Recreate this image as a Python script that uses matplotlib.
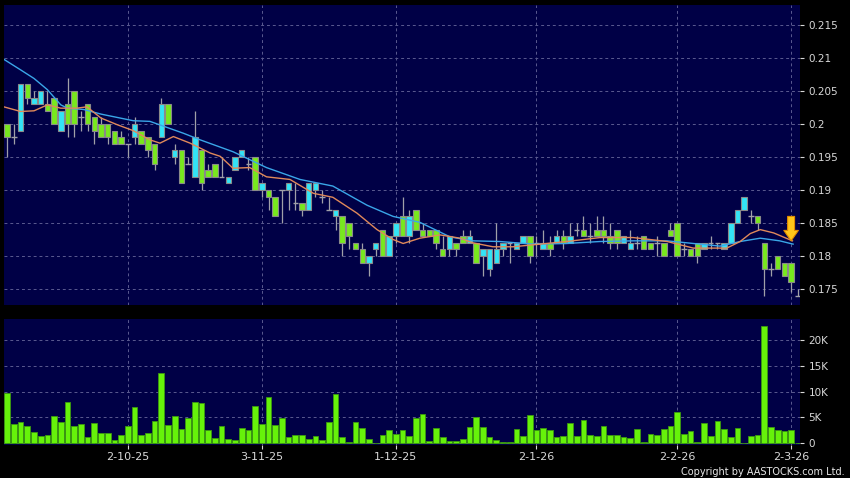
import numpy as np
import matplotlib
matplotlib.use("Agg")
import matplotlib.pyplot as plt
from matplotlib.ticker import FixedLocator, FuncFormatter

# daily OHLC, one entry per trading day (5 Sep 2025 .. 3 Mar 2026)
opens = [.200, .198, .199, .206, .203, .203, .203, .204, .199, .203,
         .205, .201, .203, .201, .200, .200, .199, .198, .197, .198,
         .199, .198, .197, .198, .203, .195, .196, .194, .192, .196,
         .193, .194, .192, .191, .193, .195, .194, .195, .190, .190,
         .189, .190, .190, .188, .188, .187, .190, .189, .187, .186,
         .186, .185, .182, .181, .179, .181, .184, .180, .183, .186,
         .183, .187, .184, .184, .184, .181, .181, .182, .183, .182,
         .182, .180, .178, .179, .181, .182, .181, .182, .183, .182,
         .181, .182, .182, .183, .182, .184, .184, .183, .184, .184,
         .183, .184, .182, .181, .182, .183, .182, .182, .182, .184,
         .185, .181, .181, .182, .181, .182, .182, .181, .182, .185,
         .187, .186, .186, .182, .178, .180, .179, .179, .174]
highs = [.200, .200, .206, .206, .205, .205, .205, .204, .202, .207,
         .205, .202, .203, .201, .201, .200, .199, .199, .197, .201,
         .199, .198, .197, .204, .203, .197, .196, .195, .202, .196,
         .194, .194, .195, .192, .195, .196, .195, .195, .191, .190,
         .189, .190, .191, .191, .188, .191, .191, .190, .189, .187,
         .186, .185, .182, .182, .180, .182, .184, .183, .185, .189,
         .187, .187, .185, .184, .184, .183, .183, .182, .184, .184,
         .182, .181, .181, .185, .182, .182, .182, .183, .183, .183,
         .184, .183, .184, .184, .185, .185, .186, .185, .186, .186,
         .185, .184, .183, .184, .183, .183, .182, .183, .182, .185,
         .185, .182, .181, .182, .182, .183, .182, .182, .185, .187,
         .189, .187, .186, .182, .179, .180, .179, .179, .175]
lows = [.195, .197, .199, .203, .203, .203, .202, .200, .199, .198,
        .198, .199, .199, .197, .198, .197, .197, .197, .195, .197,
        .197, .195, .193, .198, .200, .194, .191, .194, .192, .190,
        .192, .192, .192, .191, .193, .195, .193, .190, .189, .187,
        .186, .185, .187, .187, .186, .187, .189, .188, .187, .184,
        .180, .181, .181, .179, .177, .180, .180, .180, .182, .183,
        .182, .184, .183, .183, .181, .180, .180, .180, .182, .182,
        .179, .177, .177, .179, .180, .179, .181, .182, .179, .180,
        .181, .180, .182, .181, .182, .183, .183, .182, .183, .182,
        .181, .181, .182, .181, .181, .181, .181, .180, .180, .183,
        .180, .180, .180, .179, .181, .181, .181, .181, .182, .185,
        .187, .185, .184, .174, .177, .178, .177, .1745, .174]
closes = [.198, .198, .206, .204, .204, .205, .202, .200, .202, .200,
          .200, .201, .200, .199, .198, .198, .197, .197, .197, .200,
          .197, .196, .194, .203, .200, .196, .191, .194, .198, .191,
          .192, .192, .192, .192, .195, .196, .194, .190, .191, .189,
          .186, .190, .191, .188, .187, .191, .191, .189, .187, .187,
          .182, .183, .181, .179, .180, .182, .180, .183, .185, .183,
          .186, .184, .183, .183, .182, .180, .183, .181, .182, .183,
          .179, .181, .181, .181, .182, .182, .182, .183, .180, .182,
          .182, .181, .183, .182, .183, .184, .183, .183, .183, .183,
          .182, .182, .183, .182, .182, .181, .181, .182, .180, .183,
          .180, .181, .180, .180, .182, .182, .182, .182, .185, .187,
          .189, .186, .185, .178, .178, .178, .177, .176, .174]
volumes_k = [9.7, 3.7, 4.2, 3.3, 2.2, 1.35, 1.7, 5.2, 4.2, 7.9,
             3.3, 3.8, 1.2, 4.0, 1.9, 2.05, 0.7, 1.7, 3.4, 7.05,
             1.7, 2.0, 4.3, 13.6, 3.6, 5.2, 2.7, 4.9, 8.0, 7.8,
             2.5, 1.0, 3.4, 0.8, 0.7, 2.9, 2.5, 7.3, 3.65, 9.0,
             3.5, 4.8, 1.2, 1.6, 1.7, 0.8, 1.5, 0.6, 4.2, 9.5,
             1.3, 0.2, 4.2, 3.0, 0.8, 0.0, 1.7, 2.5, 1.8, 2.5,
             1.35, 4.8, 5.7, 0.5, 2.9, 1.3, 0.45, 0.45, 0.8, 3.2,
             5.0, 3.2, 1.3, 0.7, 0.3, 0.2, 2.8, 1.5, 5.5, 2.6,
             2.9, 2.5, 1.2, 1.5, 4.0, 1.4, 4.5, 1.7, 1.5, 3.3,
             1.7, 1.55, 1.2, 0.95, 2.8, 0.3, 1.8, 1.6, 2.8, 3.4,
             6.1, 1.8, 2.3, 0.2, 3.9, 1.4, 4.4, 2.8, 1.2, 3.0,
             0.1, 1.35, 1.6, 22.8, 3.2, 2.6, 2.4, 2.5, 0.0]

# moving averages (day index, price)
ma_short_day = [-0.5, 2, 4, 6, 8, 10.4, 11.9, 14, 16.4, 18.8, 21.3, 22.8, 24.8, 27.3,
                30.3, 31.8, 33.7, 36.2, 38.7, 42.2, 45.7, 48.6, 52.2, 55.2, 57.6,
                59.1, 61.6, 64.6, 67.6, 69.5, 72.5, 75.5, 78.5, 83.5, 88.5, 93.4,
                98.5, 102.4, 107.4, 109.4, 110.9, 112.4, 114.4, 117.2]
ma_short_val = [.2026, .2019, .2020, .2029, .2024, .2024, .2026, .2009, .1999, .1990,
                .1976, .1971, .1981, .1971, .1956, .1951, .1933, .1934, .1920, .1916,
                .1895, .1889, .1865, .1840, .1825, .1819, .1827, .1832, .1827, .1820,
                .1814, .1814, .1817, .1822, .1828, .1828, .1822, .1812, .1812, .1822,
                .1834, .1840, .1835, .1823]
ma_long_day = [-0.5, 2, 4, 6, 8, 9, 11.4, 14, 16.4, 18.8, 21.3, 23.8, 26.3, 28.8,
               33.7, 38.7, 43.7, 48.6, 53.7, 57.6, 61.6, 66.1, 69.5, 73.5, 78.5,
               83.5, 88.5, 93.4, 98.5, 103.4, 106.4, 109.4, 112.4, 115.3, 117.3]
ma_long_val = [.2098, .2082, .2069, .2052, .2029, .2024, .2022, .2015, .2010, .2005,
               .2004, .1995, .1986, .1976, .1958, .1934, .1916, .1906, .1877, .1860,
               .1851, .1829, .1823, .1822, .1818, .1819, .1822, .1823, .1823, .1818,
               .1815, .1822, .1827, .1823, .1818]

tick_days = [18, 38, 58, 79, 100, 117]
tick_labels = ['2-10-25', '3-11-25', '1-12-25', '2-1-26', '2-2-26', '2-3-26']
price_ticks = [0.175, 0.18, 0.185, 0.19, 0.195, 0.2, 0.205, 0.21, 0.215]
vol_ticks = [0, 5000, 10000, 15000, 20000]

bg = '#000046'
up_col = '#33e4f6'
dn_col = '#78e81e'
grid_col = '#5a5a90'

o = np.array(opens); h = np.array(highs); l = np.array(lows); c = np.array(closes)
vol = np.array(volumes_k) * 1000
x = np.arange(len(o))

fig = plt.figure(figsize=(8.5, 4.78), dpi=100, facecolor='black')
ax = fig.add_axes([4/850, 1-305/478, 796/850, 300/478], facecolor=bg)
axv = fig.add_axes([4/850, 1-445/478, 796/850, 126/478], facecolor=bg)

for a in (ax, axv):
    a.set_xlim(-0.48, 118.33)
    a.grid(True, color=grid_col, linestyle=(0, (3, 3)), linewidth=0.7)
    a.set_axisbelow(True)
    for s in a.spines.values():
        s.set_visible(False)
    a.yaxis.tick_right()
    a.tick_params(axis='y', colors='#d8d8d8', labelsize=7.5, length=3, width=0.8, pad=3)
    a.xaxis.set_major_locator(FixedLocator(tick_days))

# candles
ax.vlines(x, l, h, color='#a0a0a8', linewidth=0.9, zorder=2)
up = c > o
dn = c < o
flat = c == o
ax.bar(x[up], (c - o)[up], bottom=o[up], width=0.82, color=up_col,
       edgecolor='#8a8a8a', linewidth=0.8, zorder=3)
ax.bar(x[dn], (o - c)[dn], bottom=c[dn], width=0.82, color=dn_col,
       edgecolor='#8a8a8a', linewidth=0.8, zorder=3)
ax.hlines(c[flat], x[flat] - 0.41, x[flat] + 0.41, color='#a0a0a8', linewidth=1.0, zorder=3)

ax.plot(ma_long_day, ma_long_val, color='#3aa6e8', linewidth=1.0, zorder=4)
ax.plot(ma_short_day, ma_short_val, color='#e0895a', linewidth=1.0, zorder=4)

ax.annotate('', xy=(117, 0.1823), xytext=(117, 0.1860),
            arrowprops=dict(facecolor='#ffc61a', edgecolor='#e08a00', linewidth=0.8,
                            width=5, headwidth=10.5, headlength=7.5, shrink=0),
            zorder=6)

ax.set_ylim(0.17258, 0.21803)
ax.yaxis.set_major_locator(FixedLocator(price_ticks))
ax.yaxis.set_major_formatter(FuncFormatter(lambda v, p: '{:g}'.format(round(v, 3))))
ax.tick_params(axis='x', length=0, labelbottom=False)

# volume
axv.bar(x, vol, width=0.85, color='#66f20a', edgecolor='#3c9a10', linewidth=0.6, zorder=3)
axv.set_ylim(-330, 24060)
axv.yaxis.set_major_locator(FixedLocator(vol_ticks))
axv.yaxis.set_major_formatter(FuncFormatter(lambda v, p: '0' if v == 0 else '%dK' % (v / 1000)))
axv.set_xticklabels(tick_labels)
axv.tick_params(axis='x', colors='#d8d8d8', labelsize=8, length=3, width=0.8, pad=2)

fig.text(845/850, 1-472/478, 'Copyright by AASTOCKS.com Ltd.', color='#e8e8e8',
         fontsize=7, ha='right', va='center')

fig.savefig('out.png', dpi=100, facecolor='black')
